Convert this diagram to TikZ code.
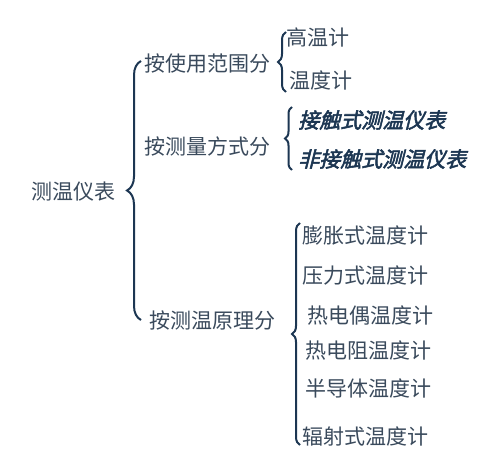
\documentclass[tikz,border=0pt]{standalone}
\usepackage{fontspec}
\newfontfamily\cjk{Noto Sans CJK SC}
\newfontfamily\cjkbi[FakeSlant=0.25,FakeBold=2.5]{Noto Sans CJK SC}
\usetikzlibrary{decorations.pathreplacing}
\definecolor{txtgrey}{HTML}{3A4A5C}
\definecolor{bracenavy}{HTML}{1C3652}
\begin{document}
\begin{tikzpicture}[
				x=1pt, y=-1pt,
				every node/.style={anchor=west, inner sep=0, text=txtgrey, font=\cjk\fontsize{21}{25}\selectfont},
				bold item/.style={text=bracenavy, font=\cjkbi\fontsize{21}{25}\selectfont},
				curly/.style={draw=bracenavy, line width=2pt, decorate, decoration={brace, amplitude=#1}},
			]
			\useasboundingbox (0,0) rectangle (495,457);
			% root and first level
			\node (root) at (31,192) {测温仪表};
			\node (range) at (144,64) {按使用范围分};
			\node (mode) at (144,146) {按测量方式分};
			\node (principle) at (149,320) {按测温原理分};
			% by range
			\node (hot) at (286,37) {高温计};
			\node (gauge) at (289,80) {温度计};
			% by mode
			\node[bold item] (contact) at (298,120) {接触式测温仪表};
			\node[bold item] (noncontact) at (298,159) {非接触式测温仪表};
			% by principle
			\node (expand) at (302,236) {膨胀式温度计};
			\node (press) at (302,276) {压力式温度计};
			\node (couple) at (307,316) {热电偶温度计};
			\node (resist) at (305,351) {热电阻温度计};
			\node (semi) at (305,388) {半导体温度计};
			\node (radiate) at (302,436) {辐射式温度计};
			% braces
			\coordinate (mainTop) at (141,61);
			\coordinate (mainBot) at (141,320);
			\coordinate (rangeTop) at (286,32);
			\coordinate (rangeBot) at (286,92);
			\coordinate (modeTop) at (292,107);
			\coordinate (modeBot) at (292,170);
			\coordinate (prinTop) at (300,223);
			\coordinate (prinBot) at (300,445);
			\draw[curly=14pt] (mainBot) -- (mainTop);
			\draw[curly=8pt] (rangeBot) -- (rangeTop);
			\draw[curly=7pt] (modeBot) -- (modeTop);
			\draw[curly=8pt] (prinBot) -- (prinTop);
			\end{tikzpicture}
\end{document}
